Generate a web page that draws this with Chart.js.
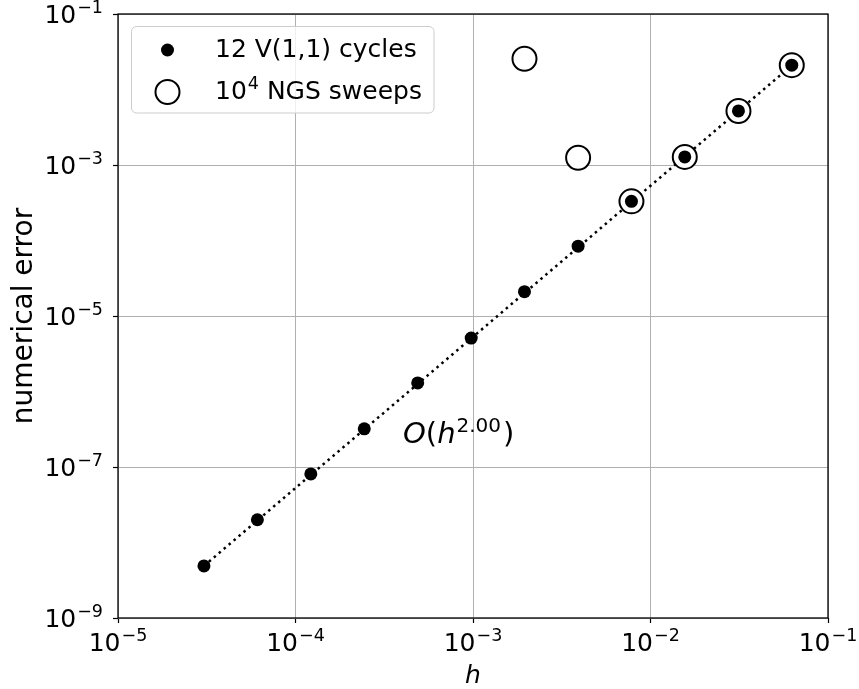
<!DOCTYPE html>
<html>
<head>
<meta charset="utf-8">
<script src="https://cdn.jsdelivr.net/npm/chart.js@4.4.1/dist/chart.umd.min.js"></script>
<style>
  html, body { margin: 0; padding: 0; background: #fff; }
  #wrap { width: 859px; height: 689px; }
</style>
</head>
<body>
<div id="wrap"><canvas id="errChart" width="859" height="689"></canvas></div>
<script>
// ==============================
// DATA
// ==============================
const hVals = [3.05e-5, 6.10e-5, 1.22e-4, 2.44e-4, 4.88e-4, 9.77e-4,
               1.95e-3, 3.91e-3, 7.81e-3, 1.56e-2, 3.13e-2, 6.25e-2];
const vcycleErr = [4.9e-9, 2.0e-8, 8.1e-8, 3.2e-7, 1.3e-6, 5.1e-6,
                   2.1e-5, 8.4e-5, 3.3e-4, 1.28e-3, 5.2e-3, 2.1e-2];

const ngsH = [1.95e-3, 3.91e-3, 7.81e-3, 1.56e-2, 3.13e-2, 6.25e-2];
const ngsErr = [2.55e-2, 1.25e-3, 3.3e-4, 1.28e-3, 5.2e-3, 2.1e-2];

const fitH = [3.05e-5, 6.25e-2];
const fitErr = [4.9e-9, 2.08e-2];

const xTickExps = [-5, -4, -3, -2, -1];
const yTickExps = [-9, -7, -5, -3, -1];

const legendLabels = ["12 V(1,1) cycles", "NGS sweeps"];
const fitLabel = "2.00";

// ==============================
// HELPERS
// ==============================
const FONT = "'DejaVu Sans', sans-serif";

function pts(xs, ys) {
  return xs.map((x, i) => ({ x: x, y: ys[i] }));
}

// "10" + raised exponent, like matplotlib mathtext
function powWidth(ctx, exp, size) {
  ctx.font = `${size}px ${FONT}`;
  const base = ctx.measureText("10").width;
  ctx.font = `${size * 0.7}px ${FONT}`;
  const sup = ctx.measureText(exp).width;
  return base + sup + 1;
}

function drawPow(ctx, exp, x, y, size) {
  ctx.textAlign = "left";
  ctx.textBaseline = "alphabetic";
  ctx.font = `${size}px ${FONT}`;
  ctx.fillText("10", x, y);
  const w = ctx.measureText("10").width;
  ctx.font = `${size * 0.7}px ${FONT}`;
  ctx.fillText(exp, x + w + 1, y - size * 0.4);
}

function expText(e) {
  return e < 0 ? "\u2212" + Math.abs(e) : String(e);
}

// ==============================
// PLUGIN: frame, tick labels, titles, legend, note
// ==============================
const decorPlugin = {
  id: "decor",
  beforeDatasetsDraw(chart) {
    const { ctx, chartArea: a } = chart;
    ctx.save();
    ctx.strokeStyle = "#000";
    ctx.lineWidth = 1.3;
    ctx.strokeRect(a.left, a.top, a.right - a.left, a.bottom - a.top);
    ctx.restore();
  },
  afterDraw(chart) {
    const { ctx, chartArea: a, scales } = chart;
    const xs = scales.x, ys = scales.y;
    ctx.save();
    ctx.fillStyle = "#000";

    // x tick labels
    xTickExps.forEach(e => {
      const px = xs.getPixelForValue(Math.pow(10, e));
      const w = powWidth(ctx, expText(e), 25);
      drawPow(ctx, expText(e), px - w / 2, a.bottom + 33, 25);
    });

    // y tick labels
    yTickExps.forEach(e => {
      const py = ys.getPixelForValue(Math.pow(10, e));
      const w = powWidth(ctx, expText(e), 25);
      drawPow(ctx, expText(e), a.left - 15 - w, py + 9, 25);
    });

    // axis titles
    ctx.font = `italic 25px ${FONT}`;
    ctx.textAlign = "center";
    ctx.fillText("h", (a.left + a.right) / 2, 683);

    ctx.save();
    ctx.translate(32, (a.top + a.bottom) / 2);
    ctx.rotate(-Math.PI / 2);
    ctx.font = `28px ${FONT}`;
    ctx.textAlign = "center";
    ctx.fillText("numerical error", 0, 0);
    ctx.restore();

    // O(h^2.00) note
    let x = 403;
    const by = 443;
    ctx.textAlign = "left";
    ctx.font = `italic 29px ${FONT}`;
    ctx.fillText("O", x, by); x += ctx.measureText("O").width;
    ctx.font = `29px ${FONT}`;
    ctx.fillText("(", x, by); x += ctx.measureText("(").width;
    ctx.font = `italic 29px ${FONT}`;
    ctx.fillText("h", x, by); x += ctx.measureText("h").width + 1;
    ctx.font = `20px ${FONT}`;
    ctx.fillText(fitLabel, x, by - 11); x += ctx.measureText(fitLabel).width + 2;
    ctx.font = `29px ${FONT}`;
    ctx.fillText(")", x, by);

    // legend
    const lx = 131.5, ly = 26.5, lw = 302.5, lh = 86.5;
    ctx.beginPath();
    ctx.roundRect(lx, ly, lw, lh, 5);
    ctx.fillStyle = "rgba(255,255,255,0.8)";
    ctx.fill();
    ctx.strokeStyle = "#cccccc";
    ctx.lineWidth = 1;
    ctx.stroke();

    ctx.fillStyle = "#000";
    ctx.beginPath();
    ctx.arc(167.5, 50, 6.5, 0, Math.PI * 2);
    ctx.fill();

    ctx.beginPath();
    ctx.arc(167.5, 92, 12, 0, Math.PI * 2);
    ctx.fillStyle = "#fff";
    ctx.fill();
    ctx.strokeStyle = "#000";
    ctx.lineWidth = 2;
    ctx.stroke();

    ctx.fillStyle = "#000";
    ctx.font = `25px ${FONT}`;
    ctx.textAlign = "left";
    ctx.fillText(legendLabels[0], 215, 57);
    drawPow(ctx, "4", 215, 98.5, 25);
    const pw = powWidth(ctx, "4", 25);
    ctx.font = `25px ${FONT}`;
    ctx.fillText(" " + legendLabels[1], 215 + pw, 98.5);

    ctx.restore();
  }
};

// ==============================
// CHART
// ==============================
const decadeTicks = exps => scale => {
  scale.ticks = exps.map(e => ({ value: Math.pow(10, e) }));
};

const ctx = document.getElementById("errChart").getContext("2d");

new Chart(ctx, {
  type: "scatter",
  data: {
    datasets: [
      {
        label: "fit",
        data: pts(fitH, fitErr),
        showLine: true,
        pointRadius: 0,
        borderColor: "#000",
        borderWidth: 2.5,
        borderDash: [2.5, 4],
        order: 2
      },
      {
        label: "ngs",
        data: pts(ngsH, ngsErr),
        pointRadius: 12,
        pointHoverRadius: 12,
        backgroundColor: "#fff",
        borderColor: "#000",
        borderWidth: 2,
        order: 1
      },
      {
        label: "vcycle",
        data: pts(hVals, vcycleErr),
        pointRadius: 6.5,
        pointHoverRadius: 6.5,
        backgroundColor: "#000",
        borderWidth: 0,
        order: 0
      }
    ]
  },
  options: {
    responsive: false,
    animation: false,
    events: [],
    layout: { padding: { left: 113, right: 31, top: 14, bottom: 66 } },
    plugins: {
      legend: { display: false },
      tooltip: { enabled: false }
    },
    scales: {
      x: {
        type: "logarithmic",
        min: 1e-5,
        max: 1e-1,
        afterBuildTicks: decadeTicks(xTickExps),
        afterFit: s => { s.height = 5; },
        ticks: { display: false },
        grid: { color: "#b0b0b0", lineWidth: 1, tickColor: "#000", tickLength: 5, tickWidth: 1.2 },
        border: { display: false }
      },
      y: {
        type: "logarithmic",
        min: 1e-9,
        max: 1e-1,
        afterBuildTicks: decadeTicks(yTickExps),
        afterFit: s => { s.width = 5; },
        ticks: { display: false },
        grid: { color: "#b0b0b0", lineWidth: 1, tickColor: "#000", tickLength: 5, tickWidth: 1.2 },
        border: { display: false }
      }
    }
  },
  plugins: [decorPlugin]
});
</script>
</body>
</html>
